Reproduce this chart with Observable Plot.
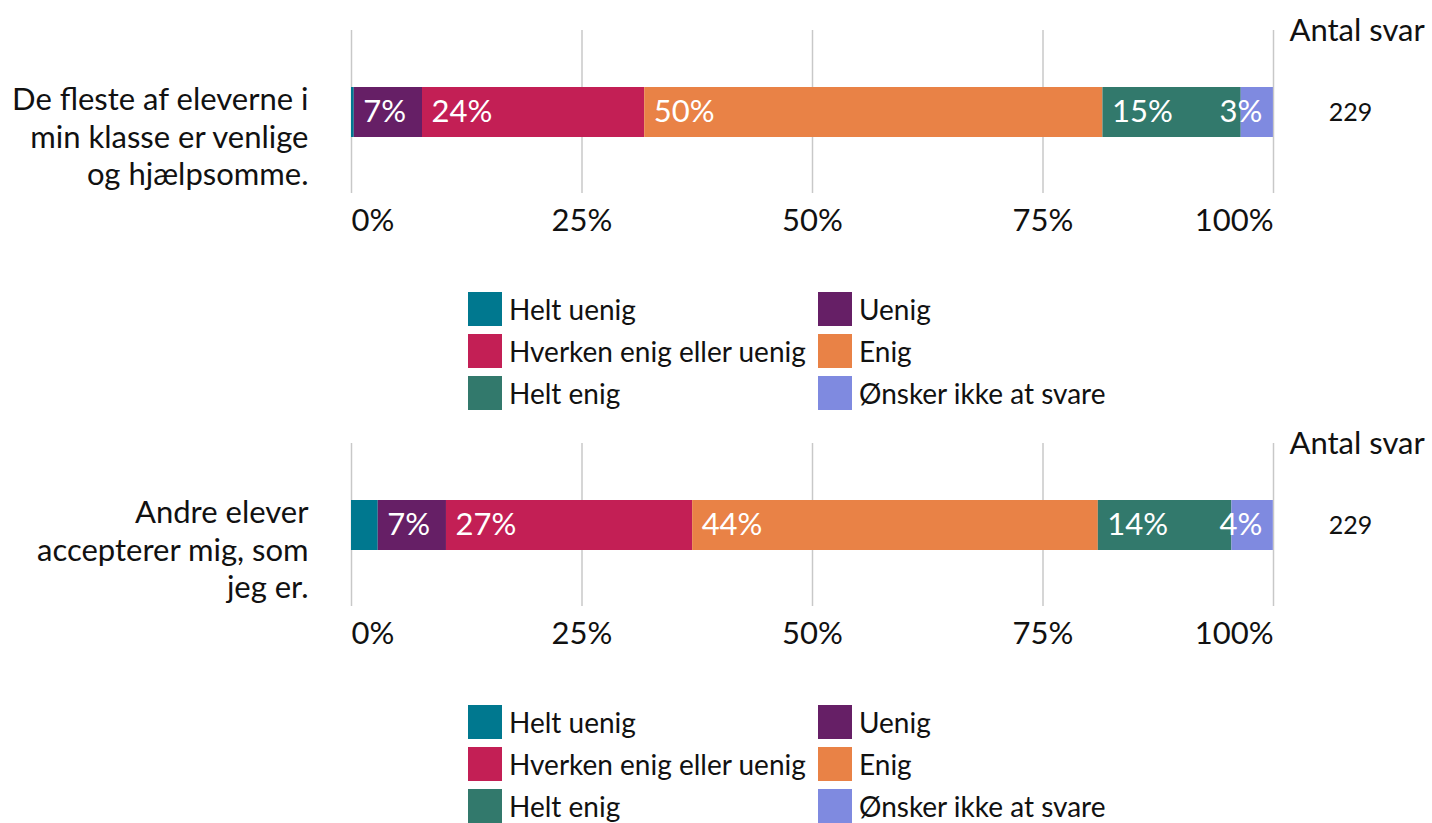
<!DOCTYPE html>
<html><head><meta charset="utf-8">
<script src="https://cdn.jsdelivr.net/npm/d3@7"></script>
<script src="https://cdn.jsdelivr.net/npm/@observablehq/plot@0.6"></script>
<style>
body{margin:0;background:#fff;font-family:Lato,sans-serif;}
.panel{position:relative;width:1432px;height:413px;overflow:visible;}
.panel > svg{position:absolute;left:0;top:0;}
.legend{position:absolute;left:468px;top:292px;display:grid;grid-template-columns:350px auto;row-gap:8px;}
.item{display:flex;align-items:center;height:34px;font-size:28px;color:#111;white-space:nowrap;}
.sw{width:34px;height:34px;margin-right:7px;flex-shrink:0;}
</style></head><body><div id="root"></div>
<script>
const categories = ["Helt uenig", "Uenig", "Hverken enig eller uenig", "Enig", "Helt enig", "Ønsker ikke at svare"];
const colors = ["#00788f", "#661f66", "#c31f55", "#e98246", "#32796c", "#7f8ae0"];
const questions = ["De fleste af eleverne i min klasse er venlige og hjælpsomme.", "Andre elever accepterer mig, som jeg er."];
const questionLines = ["De fleste af eleverne i\nmin klasse er venlige\nog hjælpsomme.", "Andre elever\naccepterer mig, som\njeg er."];
const q1Values = [0.3, 7.4, 24.1, 49.7, 15.0, 3.49];
const q2Values = [2.9, 7.4, 26.7, 44.0, 14.49, 4.49];
const responses = [229, 229];
const ticks = [0, 25, 50, 75, 100];
const responseTitle = "Antal svar";

const allValues = [q1Values, q2Values];

function panel(qi) {
  const q = questions[qi];
  const data = categories.map((c, i) => ({q, cat: c, value: allValues[qi][i]}));
  const last = categories[categories.length - 1];
  const lab = d => Math.round(d.value) + "%";
  const fs = 31;
  const chart = Plot.plot({
    width: 1432, height: 265,
    marginLeft: 351, marginRight: 159, marginTop: 30, marginBottom: 72,
    style: {fontFamily: "Lato, sans-serif", fontSize: fs + "px", color: "#111", background: "transparent", overflow: "visible"},
    x: {domain: [0, 100], axis: null},
    y: {domain: [q], axis: null, padding: 0.53},
    color: {domain: categories, range: colors},
    marks: [
      Plot.ruleX(ticks, {x: d => d, stroke: "#c8c8c8", strokeWidth: 1.5}),
      Plot.barX(data, Plot.stackX({x: "value", y: "q", fill: "cat"})),
      Plot.text(data, Plot.stackX1({x: "value", y: "q", text: d => (d.cat !== last && d.value >= 3) ? lab(d) : "", textAnchor: "start", dx: 9, fill: "white", fontSize: fs})),
      Plot.text(data, Plot.stackX2({x: "value", y: "q", text: d => d.cat === last ? lab(d) : "", textAnchor: "end", dx: -11, fill: "white", fontSize: fs})),
      Plot.text([questionLines[qi]], {y: () => q, text: d => d, frameAnchor: "left", textAnchor: "end", dx: -43, dy: 23, lineHeight: 1.22, fontSize: fs, fill: "#111"}),
      Plot.text(ticks.filter(t => t > 0 && t < 100), {x: d => d, text: d => d + "%", frameAnchor: "bottom", dy: 37, fontSize: fs, fill: "#111"}),
      Plot.text(ticks.filter(t => t === 0), {x: d => d, text: d => d + "%", frameAnchor: "bottom", dy: 37, textAnchor: "start", fontSize: fs, fill: "#111"}),
      Plot.text(ticks.filter(t => t === 100), {x: d => d, text: d => d + "%", frameAnchor: "bottom", dy: 37, textAnchor: "end", fontSize: fs, fill: "#111"}),
      Plot.text([responseTitle], {text: d => d, frameAnchor: "top-right", lineAnchor: "middle", textAnchor: "start", dx: 16, dy: 1, fontSize: fs, fill: "#111"}),
      Plot.text([responses[qi]], {y: () => q, text: d => String(d), frameAnchor: "right", textAnchor: "middle", dx: 77, fontSize: 25, fill: "#111"})
    ]
  });
  const div = document.createElement("div");
  div.className = "panel";
  div.appendChild(chart);
  const leg = document.createElement("div");
  leg.className = "legend";
  categories.forEach((c, i) => {
    const it = document.createElement("div");
    it.className = "item";
    const sw = document.createElement("span");
    sw.className = "sw";
    sw.style.background = colors[i];
    const t = document.createElement("span");
    t.textContent = c;
    it.appendChild(sw); it.appendChild(t);
    leg.appendChild(it);
  });
  div.appendChild(leg);
  return div;
}
const root = document.getElementById("root");
root.appendChild(panel(0));
root.appendChild(panel(1));
</script></body></html>
